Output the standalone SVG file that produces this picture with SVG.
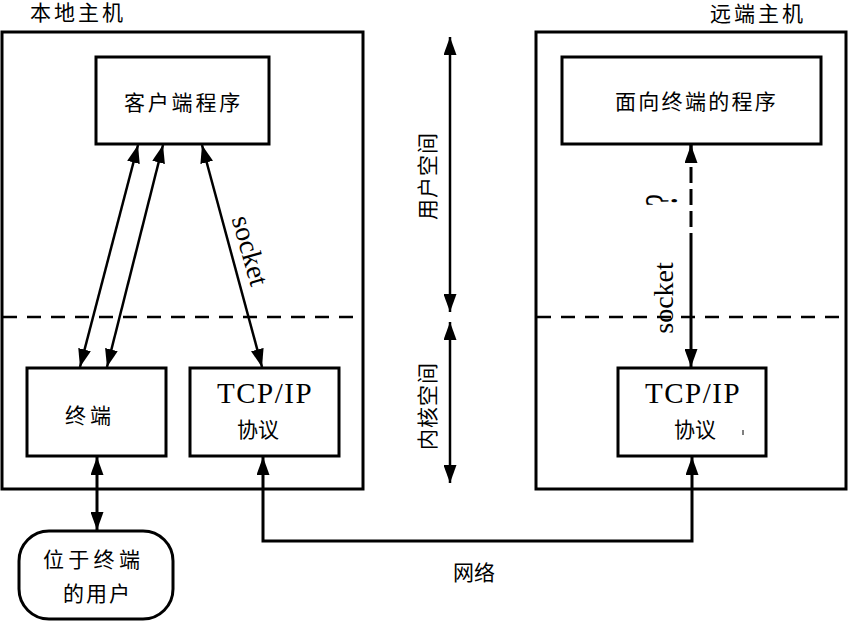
<svg xmlns="http://www.w3.org/2000/svg" width="848" height="621" viewBox="0 0 848 621">
<defs>
<style>
.box{fill:#fff;stroke:#000;stroke-width:3}
.host{fill:none;stroke:#000;stroke-width:3}
.dash{stroke:#000;stroke-width:2.5;stroke-dasharray:14 10;fill:none}
.ln{stroke:#000;stroke-width:2.5;fill:none}
.thick{stroke:#000;stroke-width:3;fill:none}
.t{font-family:"Liberation Serif","Noto Sans CJK SC",serif;font-size:21px;fill:#000}
.en{font-family:"Liberation Serif","Times New Roman",serif;fill:#000}
</style>
<marker id="ah" markerUnits="userSpaceOnUse" markerWidth="18" markerHeight="13" refX="18" refY="6.5" orient="auto-start-reverse" viewBox="0 0 18 13">
<path d="M0,0 L18,6.5 L0,13 z" fill="#000"/>
</marker>
</defs>

<g id="local-host">
<rect class="host" x="2" y="32" width="361" height="457"/>
<text class="t" x="30" y="20" letter-spacing="3">本地主机</text>
<line class="dash" x1="3" y1="317" x2="358" y2="317"/>
</g>

<g id="remote-host">
<rect class="host" x="536" y="32" width="310" height="457"/>
<text class="t" x="710" y="21" letter-spacing="3">远端主机</text>
<line class="dash" x1="537" y1="317" x2="846" y2="317"/>
</g>

<g id="client-program">
<rect class="box" x="96" y="57" width="173" height="87"/>
<text class="t" x="124" y="110" letter-spacing="2.8">客户端程序</text>
</g>

<g id="terminal">
<rect class="box" x="27" y="368" width="139" height="88"/>
<text class="t" x="65" y="423" letter-spacing="4">终端</text>
</g>

<g id="tcpip-local">
<rect class="box" x="190" y="368" width="149" height="88"/>
<text class="en" x="217" y="403" font-size="29" letter-spacing="1.5">TCP/IP</text>
<text class="t" x="237" y="437">协议</text>
</g>

<g id="user">
<rect class="box" x="19" y="531" width="154" height="88" rx="30" ry="30"/>
<text class="t" x="43" y="567" letter-spacing="4.3">位于终端</text>
<text class="t" x="63" y="601" letter-spacing="2">的用户</text>
</g>

<g id="remote-program">
<rect class="box" x="562" y="57" width="259" height="87"/>
<text class="t" x="615" y="109" letter-spacing="2.3">面向终端的程序</text>
</g>

<g id="tcpip-remote">
<rect class="box" x="618" y="368" width="148" height="88"/>
<text class="en" x="645" y="403" font-size="29" letter-spacing="1.5">TCP/IP</text>
<text class="t" x="674" y="437">协议</text>
<line x1="743" y1="430" x2="743" y2="435" stroke="#000" stroke-width="1"/>
</g>

<g id="space-labels">
<text class="t" transform="translate(435,220) rotate(-90)" letter-spacing="1">用户空间</text>
<text class="t" transform="translate(435,450) rotate(-90)" letter-spacing="1">内核空间</text>
<text class="t" x="453" y="580">网络</text>
</g>

<g id="connectors">
<line class="ln" x1="138" y1="145" x2="80" y2="367" marker-start="url(#ah)" marker-end="url(#ah)"/>
<line class="ln" x1="163" y1="145" x2="107" y2="367" marker-start="url(#ah)" marker-end="url(#ah)"/>
<line class="ln" x1="202" y1="145" x2="262" y2="367" marker-start="url(#ah)" marker-end="url(#ah)"/>
<text class="en" font-size="28" transform="translate(249,251) rotate(74)" x="0" y="8" text-anchor="middle">socket</text>

<line class="thick" x1="97" y1="457" x2="97" y2="530" stroke-width="4" marker-start="url(#ah)" marker-end="url(#ah)"/>
<polyline class="thick" points="263,457 263,541 692,541 692,457" marker-start="url(#ah)" marker-end="url(#ah)"/>

<line class="thick" x1="691" y1="145" x2="691" y2="233" stroke-dasharray="16 6"/>
<line class="thick" x1="691" y1="145" x2="691" y2="150" marker-start="url(#ah)"/>
<line class="thick" x1="691" y1="233" x2="691" y2="367" marker-end="url(#ah)"/>
<text class="en" font-size="46" transform="translate(677,200) rotate(-90) scale(0.6,1)" text-anchor="middle">?</text>
<text class="en" font-size="28" transform="translate(673,298) rotate(-90)" text-anchor="middle">socket</text>

<line class="ln" x1="450" y1="37" x2="450" y2="312" marker-start="url(#ah)" marker-end="url(#ah)"/>
<line class="ln" x1="450" y1="322" x2="450" y2="483" marker-start="url(#ah)" marker-end="url(#ah)"/>
</g>
</svg>
